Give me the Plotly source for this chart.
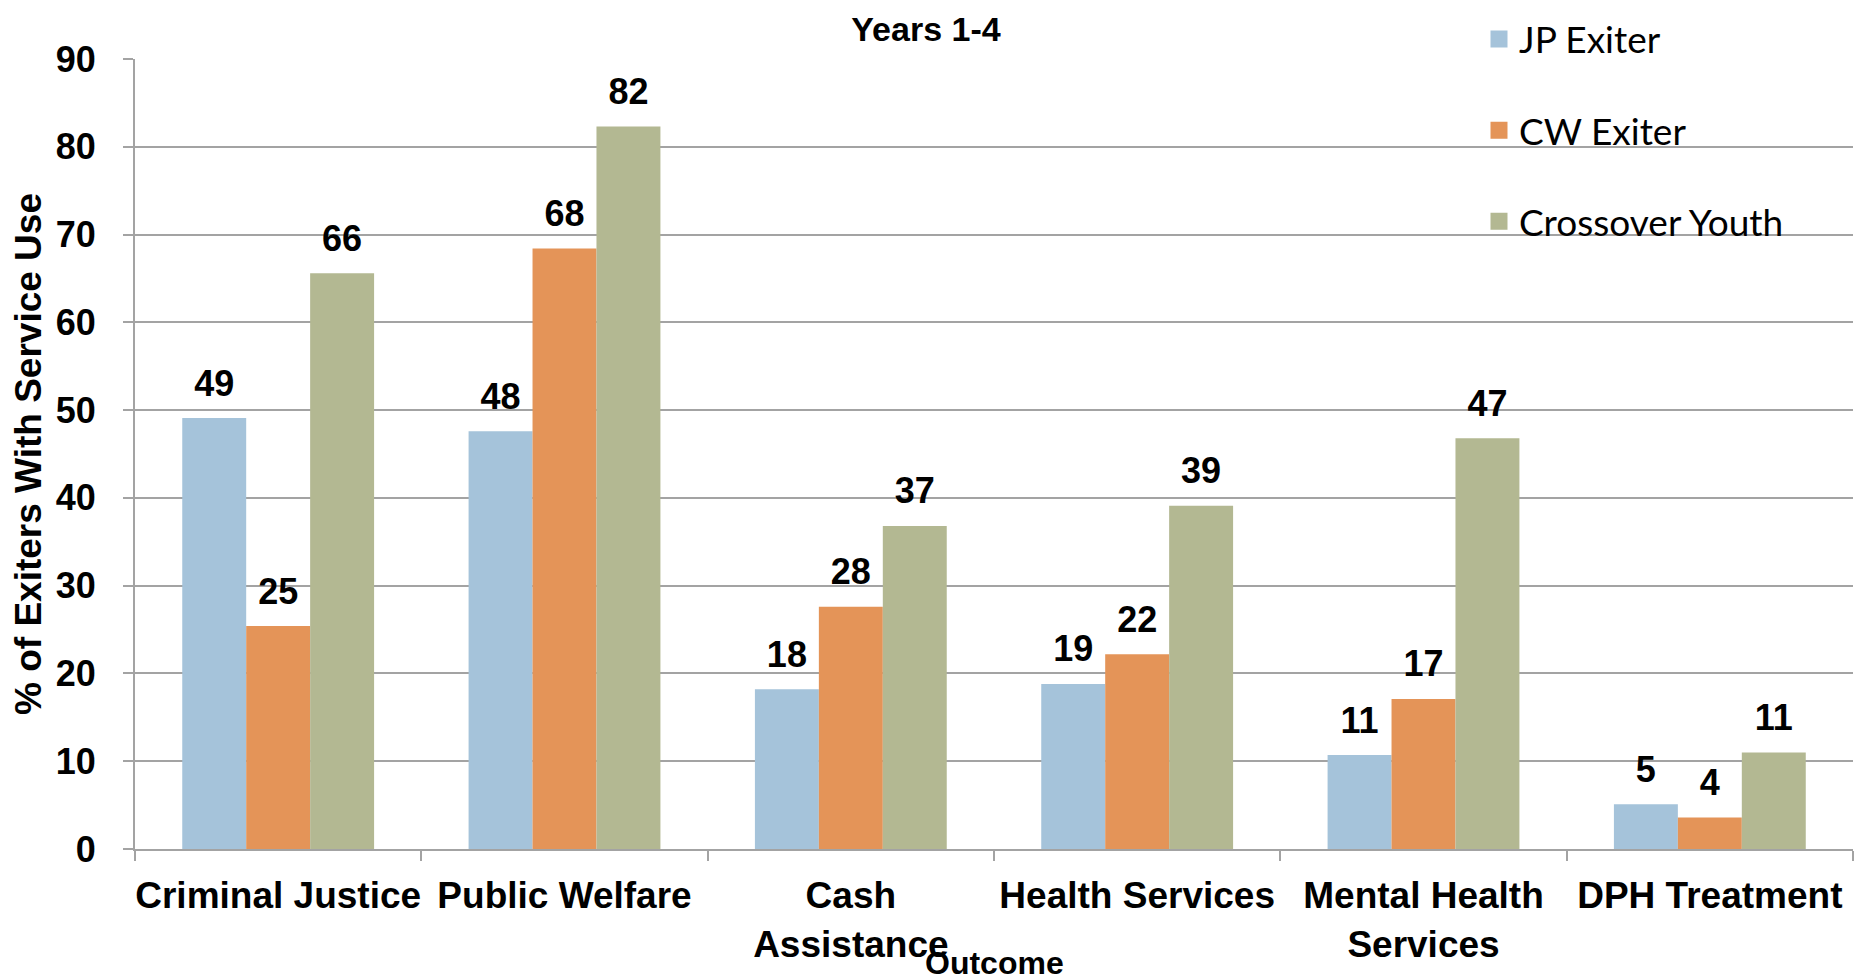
import plotly.graph_objects as go

categories = ["Criminal Justice", "Public Welfare", "Cash<br>Assistance",
              "Health Services", "Mental Health<br>Services", "DPH Treatment"]
jp_exiter = [49.1, 47.6, 18.2, 18.8, 10.7, 5.1]
cw_exiter = [25.4, 68.4, 27.6, 22.2, 17.1, 3.6]
crossover = [65.6, 82.3, 36.8, 39.1, 46.8, 11.0]
series_names = ["JP Exiter", "CW Exiter", "Crossover Youth"]
series_colors = ["#A5C3DA", "#E49458", "#B3B892"]
y_ticks = [0, 10, 20, 30, 40, 50, 60, 70, 80, 90]

series_values = [jp_exiter, cw_exiter, crossover]
FONT = "Liberation Sans, Arial, sans-serif"
GRID = "#A3A3A3"

fig = go.Figure()
for i, (name, vals, col) in enumerate(zip(series_names, series_values, series_colors)):
    fig.add_trace(go.Bar(
        name=name, x=categories, y=vals, marker_color=col,
        marker_line_width=0, offsetgroup=str(i), showlegend=False,
        hoverinfo="x+y+name",
    ))
# legend-only entries (larger swatches)
for i, (name, col) in enumerate(zip(series_names, series_colors)):
    fig.add_trace(go.Bar(
        name=name, x=[categories[0]], y=[None], marker_color=col,
        marker_line=dict(color=col, width=9), offsetgroup=str(i),
        legendgroup=name, showlegend=True, hoverinfo="skip",
    ))
for i, (name, vals) in enumerate(zip(series_names, series_values)):
    fig.add_trace(go.Scatter(
        x=categories, y=vals, mode="markers+text",
        text=[f"{v:.0f}" for v in vals], textposition="top center",
        textfont=dict(family=FONT, size=36, color="black", weight="bold"),
        marker=dict(size=20, color="rgba(0,0,0,0)"),
        offsetgroup=str(i), showlegend=False, hoverinfo="skip", cliponaxis=False,
    ))

fig.update_layout(
    width=1854, height=972,
    margin=dict(l=127, r=9, t=51, b=131, autoexpand=False),
    paper_bgcolor="white", plot_bgcolor="white",
    barmode="group", bargap=0.33, bargroupgap=0,
    scattermode="group", scattergap=0.33,
    font=dict(family=FONT, color="black"),
    title=dict(text="<b>Years 1-4</b>", x=(926 - 135) / 1718, xref="paper", xanchor="center",
               y=1 - 21 / 972, yanchor="middle",
               font=dict(family=FONT, size=34, color="black")),
    legend=dict(
        x=(1479 - 135) / 1718, xref="paper", xanchor="left",
        y=1 + (59 - 8.5) / 790, yref="paper", yanchor="top",
        bgcolor="rgba(0,0,0,0)", borderwidth=0,
        font=dict(family="Lato, sans-serif", size=37, color="black"),
        tracegroupgap=40, itemwidth=30, traceorder="grouped",
    ),
    showlegend=True,
    annotations=[dict(text="<b>Outcome</b>", x=0.5, xref="paper", xanchor="center",
                      y=-(963 - 849) / 790, yref="paper", yanchor="middle",
                      showarrow=False, font=dict(family=FONT, size=32, color="black"))],
)
fig.update_yaxes(
    range=[0, 90], tickvals=y_ticks, showgrid=True, gridcolor=GRID, gridwidth=2,
    showline=True, linecolor=GRID, linewidth=2,
    ticks="outside", ticklen=10, tickcolor=GRID, tickwidth=2,
    ticklabelstandoff=20,
    tickfont=dict(family=FONT, size=36, color="black", weight="bold"),
    title=dict(text="<b>% of Exiters With Service Use</b>", standoff=16,
               font=dict(family=FONT, size=37, color="black")),
    zeroline=False,
)
fig.update_xaxes(
    showline=True, linecolor=GRID, linewidth=2,
    ticks="outside", tickson="boundaries", ticklen=10, tickcolor=GRID, tickwidth=2,
    tickangle=0,
    tickfont=dict(family=FONT, size=37, color="black", weight="bold"),
    ticklabelstandoff=13,
)

fig.write_html("out.html")
